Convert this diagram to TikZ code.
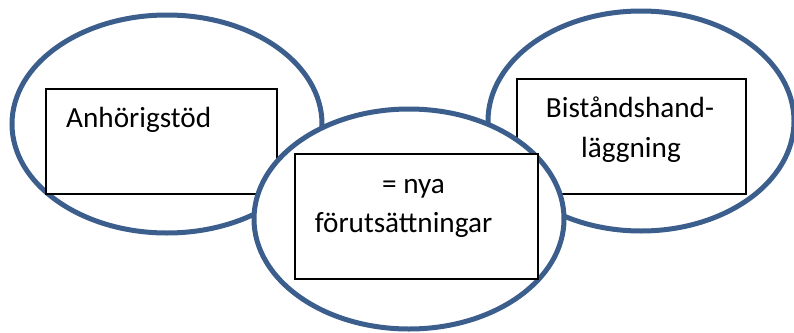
\documentclass[tikz,border=0pt]{standalone}
\usepackage{fontspec}
\setmainfont{Carlito}
\usetikzlibrary{shapes.geometric}
\definecolor{ringblue}{HTML}{3B5E8C}
\tikzset{
  ring/.style={ellipse, draw=ringblue, line width=5pt, fill=white, inner sep=0pt},
  card/.style={draw=black, line width=1.3pt, fill=white},
  label/.style={font=\fontsize{29.2}{40}\selectfont, inner sep=0pt, text=black}
}
\begin{document}
\begin{tikzpicture}[x=1pt, y=-1pt]
  \useasboundingbox (0,0) rectangle (794,332);
  % left circle: Anhörigstöd
  \node[ring, minimum width=310pt, minimum height=218pt] (ringL) at (167,124) {};
  \draw[card] (46,89) rectangle (277,194);
  \node[label, anchor=base west] (txtL) at (66,127) {Anhörigstöd};
  % right circle: Biståndshandläggning
  \node[ring, minimum width=306pt, minimum height=220pt] (ringR) at (641,121) {};
  \draw[card] (517,79) rectangle (746,194);
  \node[label, anchor=base] (txtR1) at (630,117) {Biståndshand-};
  \node[label, anchor=base] (txtR2) at (631,157) {läggning};
  % middle circle on top
  \node[ring, minimum width=310pt, minimum height=220pt] (ringM) at (409,219) {};
  \draw[card] (295,154) rectangle (538,279);
  \node[label, anchor=base] (txtM1) at (413.5,193) {= nya};
  \node[label, anchor=base] (txtM2) at (403.5,232) {förutsättningar};
\end{tikzpicture}
\end{document}
